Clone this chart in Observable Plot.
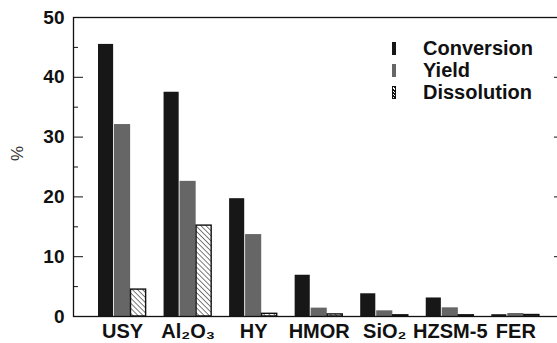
<!DOCTYPE html>
<html>
<head>
<meta charset="utf-8">
<script src="https://cdn.jsdelivr.net/npm/d3@7"></script>
<script src="https://cdn.jsdelivr.net/npm/@observablehq/plot@0.6"></script>
<style>
  body { margin: 0; background: #fff; }
  #wrap { position: relative; width: 557px; height: 343px; font-family: "Liberation Sans", Arial, sans-serif; }
  #legend { position: absolute; left: 392px; top: 38px; }
  .item { display: flex; align-items: center; height: 21.7px; font-weight: bold; font-size: 20px; color: #111; }
  .sw { width: 4px; height: 13px; margin-right: 27px; box-sizing: border-box; }
</style>
</head>
<body>
<div id="wrap"><div id="legend"></div></div>
<script>
const categories = ["USY", "Al₂O₃", "HY", "HMOR", "SiO₂", "HZSM-5", "FER"];
const conversion = [45.5, 37.5, 19.7, 6.9, 3.8, 3.1, 0.3];
const yieldValues = [32.1, 22.6, 13.7, 1.4, 0.95, 1.45, 0.5];
const dissolution = [4.5, 15.2, 0.45, 0.35, 0.2, 0.2, 0.25];
const seriesNames = ["Conversion", "Yield", "Dissolution"];
const yTicks = [0, 10, 20, 30, 40, 50];
const yMinorTicks = [5, 15, 25, 35, 45];
const yRightTicks = [10, 20, 30, 40];

const table = categories.map((c, i) => ({cat: c, conv: conversion[i], yld: yieldValues[i], diss: dissolution[i]}));

const defs = () => {
  const d = d3.create("svg:defs");
  const p = d.append("pattern").attr("id", "hatch").attr("patternUnits", "userSpaceOnUse")
    .attr("width", 3.6).attr("height", 3.6).attr("patternTransform", "rotate(-45)");
  p.append("rect").attr("width", 3.6).attr("height", 3.6).attr("fill", "#fff");
  p.append("line").attr("x1", 0).attr("y1", 0).attr("x2", 0).attr("y2", 3.6).attr("stroke", "#111").attr("stroke-width", 1.1);
  return d.node();
};

const font = {fontSize: 19, fontWeight: "bold", fill: "#111"};

const chart = Plot.plot({
  width: 557,
  height: 343,
  marginTop: 17,
  marginBottom: 27,
  marginLeft: 73,
  marginRight: 0,
  style: {fontFamily: "'Liberation Sans', Arial, sans-serif", background: "#fff", color: "#111"},
  x: {domain: categories, paddingInner: 0.266, paddingOuter: 0.325, align: 0.587, round: false},
  y: {domain: [0, 50]},
  marks: [
    defs,
    Plot.barY(table, {x: "cat", y: "conv", fill: "#171717", insetLeft: 0, insetRight: 33}),
    Plot.barY(table, {x: "cat", y: "yld", fill: "#666", insetLeft: 16, insetRight: 16}),
    Plot.barY(table, {x: "cat", y: "diss", fill: "url(#hatch)", stroke: "#111", strokeWidth: 1.4, insetLeft: 32.5, insetRight: 0.5}),
    Plot.frame({stroke: "#111", strokeWidth: 1.3, insetRight: -5}),
    Plot.axisY({ticks: yTicks, tickSize: 0, tickPadding: 9, label: null, ...font}),
    Plot.axisY({ticks: yRightTicks, tickSize: -10, fill: "none", label: null, stroke: "#111"}),
    Plot.axisY({ticks: yMinorTicks, tickSize: -5, fill: "none", label: null, stroke: "#111"}),
    Plot.axisY({anchor: "right", ticks: yRightTicks, tickSize: -4, fill: "none", label: null, stroke: "#111"}),
    Plot.axisX({tickSize: 0, tickPadding: 7, label: null, ...font, fontSize: 20}),
    Plot.text(["%"], {frameAnchor: "left", rotate: -90, dx: -56, dy: -6, fontSize: 17, fill: "#333"})
  ]
});

document.getElementById("wrap").prepend(chart);

const legend = d3.select("#legend");
const swStyles = [
  "background:#171717",
  "background:#666",
  "border:1px solid #111;background:repeating-linear-gradient(45deg,#fff 0 1.2px,#111 1.2px 2.2px)"
];
seriesNames.forEach((n, i) => {
  const it = legend.append("div").attr("class", "item");
  it.append("div").attr("class", "sw").attr("style", swStyles[i]);
  it.append("span").text(n);
});
</script>
</body>
</html>
